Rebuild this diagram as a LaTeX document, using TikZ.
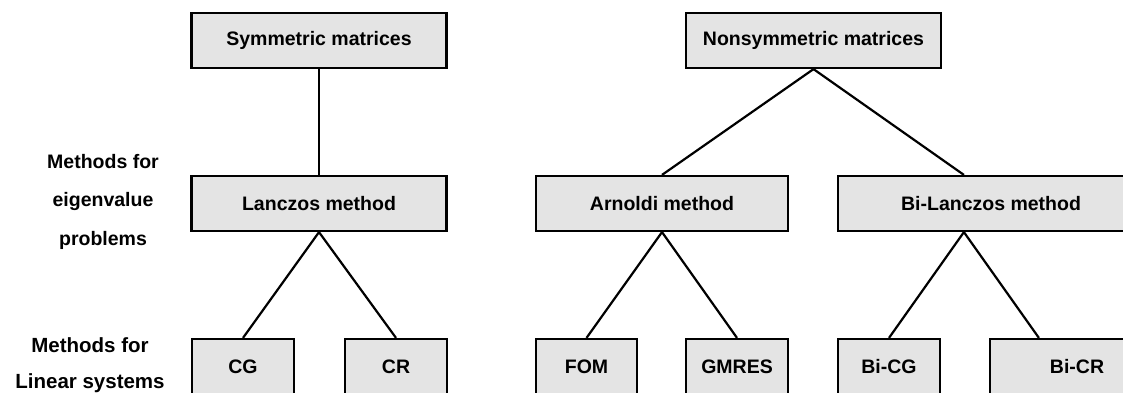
\documentclass[tikz,border=0pt]{standalone}
\usepackage{fontspec}
\setmainfont{Liberation Sans}
\definecolor{boxgray}{RGB}{228,228,228}
\begin{document}
\begin{tikzpicture}[x=1pt,y=-1pt,
  txt/.style={font=\bfseries\fontsize{19.5}{22}\selectfont},
  box/.style={txt,draw=black,fill=boxgray,line width=2.2pt,minimum height=55pt,inner sep=0pt,anchor=center},
  conn/.style={draw=black,line width=2.2pt},
  lbl/.style={txt,align=center,inner sep=0pt}]
\useasboundingbox (0,0) rectangle (1123,392);
% top level
\node[box,minimum width=255pt] (sym) at (319,40.5) {Symmetric matrices};
\node[box,minimum width=255pt] (nonsym) at (813.5,40.5) {Nonsymmetric matrices};
% eigenvalue methods
\node[box,minimum width=255pt] (lanczos) at (319,203.5) {Lanczos method};
\node[box,minimum width=252pt] (arnoldi) at (662,203.5) {Arnoldi method};
\node[box,minimum width=306pt] (bilanczos) at (991,203.5) {Bi-Lanczos method};
% linear systems
\node[box,minimum width=102pt] (cg) at (243,366.5) {CG};
\node[box,minimum width=102pt] (cr) at (396,366.5) {CR};
\node[box,minimum width=101pt] (fom) at (586.5,366.5) {FOM};
\node[box,minimum width=102pt] (gmres) at (737,366.5) {GMRES};
\node[box,minimum width=102pt] (bicg) at (889,366.5) {Bi-CG};
\node[box,minimum width=174pt] (bicr) at (1077,366.5) {Bi-CR};
% labels
\node[lbl,font=\bfseries\fontsize{19.5}{38.5}\selectfont] (eiglbl) at (103,201.5) {Methods for\\eigenvalue\\problems};
\node[lbl,font=\bfseries\fontsize{20.5}{36}\selectfont] (linlbl) at (90,365) {Methods for\\Linear systems};
% connectors
\draw[conn] (sym.south) -- (lanczos.north);
\draw[conn] (nonsym.south) -- (arnoldi.north);
\draw[conn] (nonsym.south) -- ([xshift=127pt]bilanczos.north west);
\draw[conn] (lanczos.south) -- (cg.north);
\draw[conn] (lanczos.south) -- (cr.north);
\draw[conn] (arnoldi.south) -- (fom.north);
\draw[conn] (arnoldi.south) -- (gmres.north);
\draw[conn] ([xshift=127pt]bilanczos.south west) -- (bicg.north);
\draw[conn] ([xshift=127pt]bilanczos.south west) -- ([xshift=50pt]bicr.north west);
\end{tikzpicture}
\end{document}
